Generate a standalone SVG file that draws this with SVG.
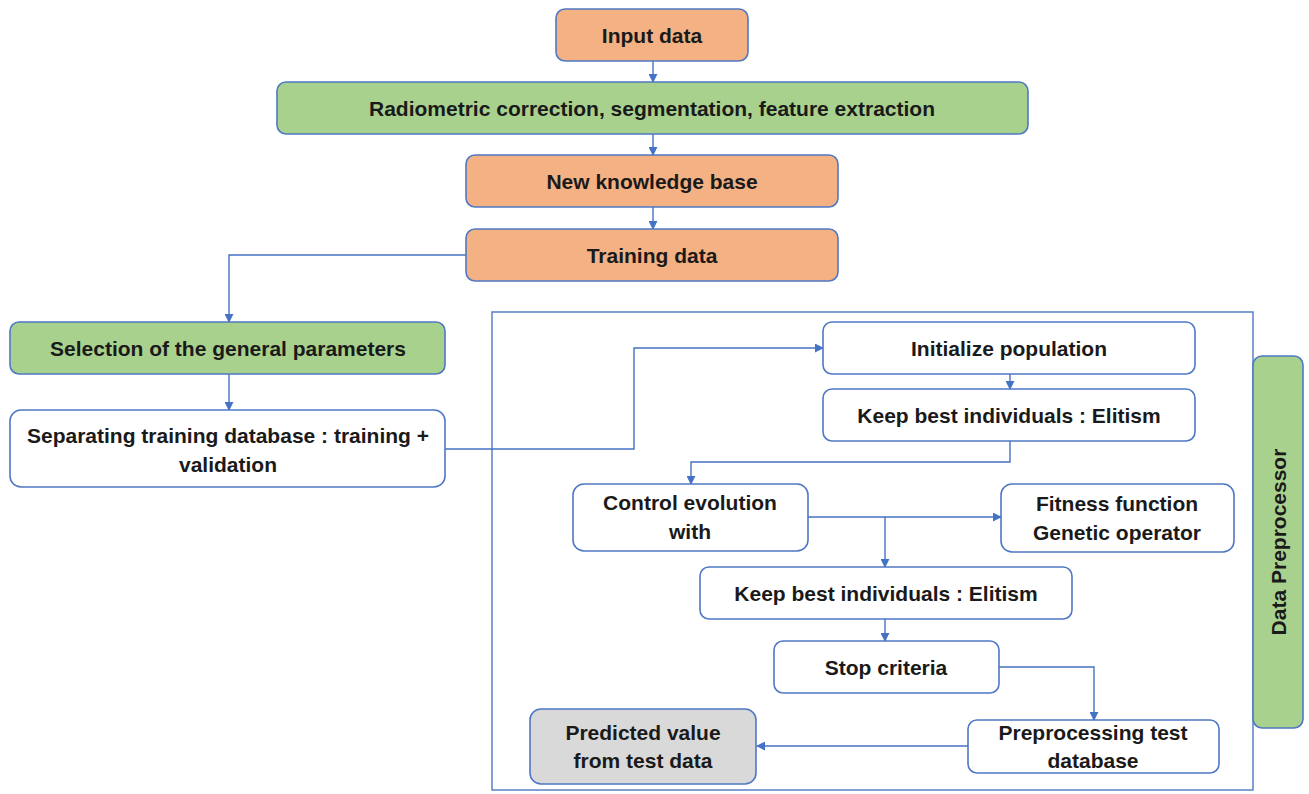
<svg xmlns="http://www.w3.org/2000/svg" width="1309" height="794" viewBox="0 0 1309 794">
<defs>
<style>
.box{stroke:#4F78C4;stroke-width:1.6}
.o{fill:#F4B183}.g{fill:#A9D18E}.w{fill:#FFFFFF}.gr{fill:#D9D9D9}
text{font-family:"Liberation Sans",Arial,sans-serif;font-weight:bold;font-size:21px;fill:#1A1A1A;text-anchor:middle;dominant-baseline:central}
.c{fill:none;stroke:#4472C4;stroke-width:1.4}
</style>
<marker id="a" viewBox="0 0 10 10" refX="9" refY="5" markerWidth="9" markerHeight="9" markerUnits="userSpaceOnUse" orient="auto"><path d="M0,0 L10,5 L0,10 z" fill="#4472C4"/></marker>
</defs>
<rect width="1309" height="794" fill="#FFFFFF"/>
<g id="frame"><rect x="492" y="312" width="761" height="478" fill="none" stroke="#4F78C4" stroke-width="1.4"/></g>
<g id="connectors">
<path class="c" d="M653,61 V82" marker-end="url(#a)"/>
<path class="c" d="M653,134 V155" marker-end="url(#a)"/>
<path class="c" d="M653,207 V229" marker-end="url(#a)"/>
<path class="c" d="M466,255 H229 V322" marker-end="url(#a)"/>
<path class="c" d="M229,374 V410" marker-end="url(#a)"/>
<path class="c" d="M445,449 H634 V348 H823" marker-end="url(#a)"/>
<path class="c" d="M1010,374 V389" marker-end="url(#a)"/>
<path class="c" d="M1010,441 V462 H691 V484" marker-end="url(#a)"/>
<path class="c" d="M808,517 H1001" marker-end="url(#a)"/>
<path class="c" d="M885,517 V567" marker-end="url(#a)"/>
<path class="c" d="M885,619 V641" marker-end="url(#a)"/>
<path class="c" d="M999,667 H1094 V720" marker-end="url(#a)"/>
<path class="c" d="M968,746 H757" marker-end="url(#a)"/>
</g>
<g id="input"><rect class="box o" x="556" y="9" width="192" height="52" rx="9"/><text x="652" y="35">Input data</text></g>
<g id="radiometric"><rect class="box g" x="277" y="82" width="751" height="52" rx="9"/><text x="652" y="108">Radiometric correction, segmentation, feature extraction</text></g>
<g id="knowledge"><rect class="box o" x="466" y="155" width="372" height="52" rx="9"/><text x="652" y="181">New knowledge base</text></g>
<g id="training"><rect class="box o" x="466" y="229" width="372" height="52" rx="9"/><text x="652" y="255">Training data</text></g>
<g id="selection"><rect class="box g" x="10" y="322" width="435" height="52" rx="9"/><text x="228" y="348">Selection of the general parameters</text></g>
<g id="separating"><rect class="box w" x="10" y="410" width="435" height="77" rx="11"/><text x="228" y="435">Separating training database : training +</text><text x="228" y="464">validation</text></g>
<g id="init"><rect class="box w" x="823" y="322" width="372" height="52" rx="9"/><text x="1009" y="348">Initialize population</text></g>
<g id="keep1"><rect class="box w" x="823" y="389" width="372" height="52" rx="9"/><text x="1009" y="415">Keep best individuals : Elitism</text></g>
<g id="control"><rect class="box w" x="573" y="484" width="235" height="67" rx="11"/><text x="690" y="502">Control evolution</text><text x="690" y="531">with</text></g>
<g id="fitness"><rect class="box w" x="1001" y="484" width="233" height="68" rx="11"/><text x="1117" y="503">Fitness function</text><text x="1117" y="532">Genetic operator</text></g>
<g id="keep2"><rect class="box w" x="700" y="567" width="372" height="52" rx="9"/><text x="886" y="593">Keep best individuals : Elitism</text></g>
<g id="stop"><rect class="box w" x="774" y="641" width="225" height="52" rx="9"/><text x="886" y="667">Stop criteria</text></g>
<g id="preprocessing"><rect class="box w" x="968" y="720" width="251" height="53" rx="9"/><text x="1093" y="732">Preprocessing test</text><text x="1093" y="760">database</text></g>
<g id="predicted"><rect class="box gr" x="530" y="709" width="226" height="75" rx="11"/><text x="643" y="732">Predicted value</text><text x="643" y="760">from test data</text></g>
<g id="datapre"><rect class="box g" x="1253" y="356" width="50" height="372" rx="9"/><text x="1278" y="542" transform="rotate(-90 1278 542)">Data Preprocessor</text></g>
</svg>
